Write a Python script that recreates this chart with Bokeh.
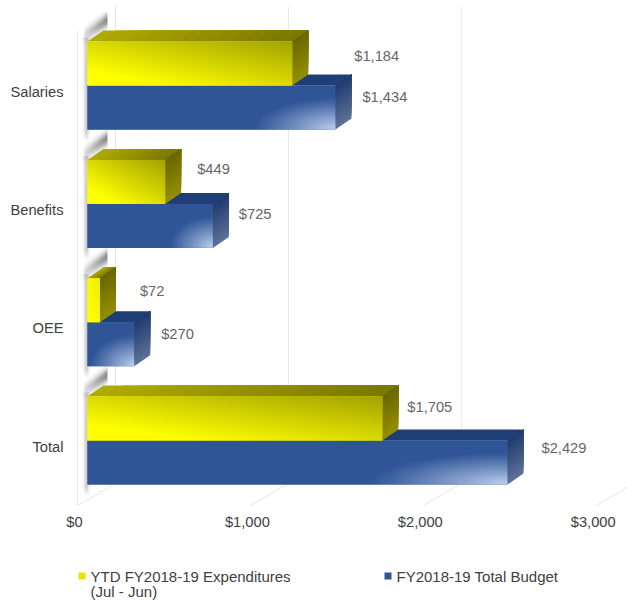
import numpy as np
from bokeh.plotting import figure
from bokeh.layouts import column
from bokeh.models import ColumnDataSource, Range1d, LinearAxis, FixedTicker, NumeralTickFormatter
from bokeh.core.properties import value
from bokeh.embed import file_html
from bokeh.resources import INLINE

# ---- chart data ----
categories = ["Salaries", "Benefits", "OEE", "Total"]
expenditures = [1184, 449, 72, 1705]
budget = [1434, 725, 270, 2429]
x_ticks = [0, 1000, 2000, 3000]
series_names = ["YTD FY2018-19 Expenditures", "FY2018-19 Total Budget"]
series_note = "(Jul - Jun)"

# ---- layout (pixels) ----
W, H, AXIS_H = 627, 532, 27
PX_PER_X = 0.1729
PX_PER_Y = 118.3
FRAME_L, FRAME_R, FRAME_T, FRAME_B = 70, 627, 0, H - AXIS_H
ZERO_X, TOTAL_Y = 87, 440
BAR_PX = 44
DEPTH_PX, DEPTH_PY = 16, 11
label_dx = [62, 27, 32, 26, 40, 27, 25, 34]
label_dy = [-8, -11, -13, -12, -9, -10, -12, -15]
FONT = "Liberation Sans"

def xr(px, zero=ZERO_X):
    return (px - zero) / PX_PER_X
def yr(py, zero=TOTAL_Y):
    return (zero - py) / PX_PER_Y

dx = DEPTH_PX / PX_PER_X
dy = DEPTH_PY / PX_PER_Y
bh = BAR_PX / PX_PER_Y
ypos = list(range(len(categories) - 1, -1, -1))

p = figure(width=W, height=H, output_backend="svg", toolbar_location=None,
           x_range=Range1d(xr(FRAME_L), xr(FRAME_R)),
           y_range=Range1d(yr(FRAME_B), yr(FRAME_T)),
           x_axis_location=None, y_axis_location=None,
           min_border_left=FRAME_L, min_border_right=0, min_border_top=0,
           min_border_bottom=AXIS_H, background_fill_color="white",
           outline_line_color=None)
p.grid.visible = False

p.extra_x_ranges["front"] = Range1d(xr(FRAME_L, 74), xr(FRAME_R, 74))
p.extra_y_ranges["labels"] = Range1d(yr(FRAME_B, 446), yr(FRAME_T, 446))
xaxis = LinearAxis(x_range_name="front", ticker=FixedTicker(ticks=x_ticks),
                   formatter=NumeralTickFormatter(format="$0,0"))
yaxis = LinearAxis(y_range_name="labels", ticker=FixedTicker(ticks=ypos),
                   major_label_overrides={y: c for y, c in zip(ypos, categories)})
for ax in (xaxis, yaxis):
    ax.axis_line_color = None
    ax.major_tick_line_color = None
    ax.minor_tick_line_color = None
    ax.major_tick_out = 0
    ax.major_tick_in = 0
    ax.minor_tick_out = 0
    ax.minor_tick_in = 0
    ax.major_label_text_font = FONT
    ax.major_label_text_font_size = "14.7px"
    ax.major_label_text_color = "#404040"
xaxis.major_label_standoff = 8
yaxis.major_label_standoff = 7
p.add_layout(xaxis, "below")
p.add_layout(yaxis, "left")

# 3D walls
GRID = "#e6e6e6"
back_off = xr(115)
front_off = xr(77)
floor_y, back_y, top_y = yr(505), yr(483), yr(6)
for t in x_ticks:
    p.segment([t + back_off], [back_y], [t + back_off], [top_y], line_color=GRID, line_width=1)
    p.segment([t + front_off], [floor_y], [t + back_off], [back_y], line_color=GRID, line_width=1)
p.segment([front_off], [floor_y], [front_off], [yr(30)], line_color="#e8e8e8", line_width=1)

def shadow(ytop_px):
    xs = np.arange(80, 110) + 0.5
    ys = np.arange(ytop_px - 30, ytop_px + BAR_PX * 2 + 14) + 0.5
    X, Y = np.meshgrid(xs, ys)
    band = 0.75 * np.exp(-((Y - (ytop_px - 8 - (X - 87) * 11 / 16)) / 6.5) ** 2)
    band *= (0.3 + 0.7 * (X - 84) / 22) * np.clip((X - 82) / 3, 0, 1) * np.clip(107.5 - X, 0, 1)
    yb = ytop_px + BAR_PX * 2
    strip = 0.34 * np.exp(-((X - 86) / 2.5) ** 2) * np.clip((yb + 12 - Y) / 10, 0, 1) * (Y > ytop_px - 4)
    a = 1 - (1 - band) * (1 - strip)
    img = np.zeros(a.shape, dtype=np.uint32)
    v = img.view(dtype=np.uint8).reshape((*a.shape, 4))
    v[..., 0:3] = 100
    v[..., 3] = (a * 255).astype(np.uint8)
    return img[::-1], xs[0] - 0.5, ys[-1] + 0.5, len(xs), len(ys)

def lerp(c1, c2, t):
    return tuple(c1[i] + (c2[i] - c1[i]) * t for i in range(3))
def hexc(c):
    return "#%02x%02x%02x" % tuple(int(round(min(255, max(0, v)))) for v in c)

def strips(x0, y0, ex, ey, fx, fy, c1, c2, n=16):
    xs, ys, cs = [], [], []
    for i in range(n):
        a = i / n
        xs.append([x0 + ex * a, x0 + ex, x0 + ex + fx, x0 + ex * a + fx])
        ys.append([y0 + ey * a, y0 + ey, y0 + ey + fy, y0 + ey * a + fy])
        cs.append(hexc(lerp(c1, c2, (i + .5) / n)))
    p.patches(xs, ys, fill_color=cs, line_color=None)

def rgba(arr):
    img = np.zeros(arr.shape[:2], dtype=np.uint32)
    v = img.view(dtype=np.uint8).reshape((*arr.shape[:2], 4))
    v[..., :3] = np.clip(arr, 0, 255).astype(np.uint8)
    v[..., 3] = 255
    return img

def yellow_face(val):
    w, h = max(2, int(val * PX_PER_X)), BAR_PX
    X, Y = np.meshgrid(np.linspace(0, 1, w), np.linspace(0, 1, h))
    k = min(1.0, w / 70)
    t = np.clip((0.62 * Y + 0.62 * X - 0.22), 0, 1) * k
    t = t[..., None]
    return rgba(np.array([255, 255, 0]) * (1 - t) + np.array([165, 165, 0]) * t)

def blue_face(val):
    w, h = max(2, int(val * PX_PER_X)), BAR_PX
    X, Y = np.meshgrid(np.arange(w), np.arange(h))
    rx = max(45, 0.34 * w)
    s = np.sqrt(((w - X) / rx) ** 2 + (Y / (0.72 * h)) ** 2)
    t = np.clip(1 - s, 0, 1)[..., None] ** 1.1 * 1.1
    t = np.clip(t, 0, 1)
    return rgba(np.array([47, 85, 151]) * (1 - t) + np.array([178, 198, 232]) * t)

for y in ypos:
    py = TOTAL_Y - y * PX_PER_Y - BAR_PX
    img, x0, y0, nw, nh = shadow(py)
    p.image_rgba(image=[img], x=[xr(x0)], y=[yr(y0)], dw=[nw / PX_PER_X], dh=[nh / PX_PER_Y])

for i, y in enumerate(ypos):
    b = budget[i]
    strips(0, y, b, 0, dx, dy, (32, 62, 118), (32, 62, 118), n=1)
    strips(b, y - bh, 0, bh, dx, dy, (94, 114, 152), (30, 58, 110))
p.hbar(y="y", right="bud", left=0, height=bh,
       source=ColumnDataSource(dict(y=[v - bh / 2 for v in ypos], bud=budget)),
       fill_color="#2f5597", line_color=None)
for i, y in enumerate(ypos):
    b = budget[i]
    p.image_rgba(image=[blue_face(b)], x=[0], y=[y - bh], dw=[b], dh=[bh])
for i, y in enumerate(ypos):
    e = expenditures[i]
    strips(0, y + bh, e, 0, dx, dy, (176, 172, 0), (122, 118, 0))
    strips(e, y, 0, bh, dx, dy, (148, 144, 0), (106, 102, 0))
p.hbar(y="y", right="exp", left=0, height=bh,
       source=ColumnDataSource(dict(y=[v + bh / 2 for v in ypos], exp=expenditures)),
       fill_color="#f2f200", line_color=None)
for i, y in enumerate(ypos):
    e = expenditures[i]
    p.image_rgba(image=[yellow_face(e)], x=[0], y=[y], dw=[e], dh=[bh])

lx, ly, lt, lxo, lyo = [], [], [], [], []
for i, y in enumerate(ypos):
    for j, (v, yy) in enumerate(((expenditures[i], y + bh / 2), (budget[i], y - bh / 2))):
        lx.append(v); ly.append(yy); lt.append("${:,}".format(v))
        lxo.append(label_dx[2 * i + j]); lyo.append(label_dy[2 * i + j])
p.text(x="x", y="y", text="t", x_offset="xo", y_offset="yo",
       source=ColumnDataSource(dict(x=lx, y=ly, t=lt, xo=lxo, yo=lyo)),
       text_font=value(FONT), text_font_size="14.7px", text_color="#666666",
       text_align="left", text_baseline="middle")

# legend strip: its own small figure; the column aligns its frame with the chart's frame
LH = 600 - H
lg = figure(width=W, height=LH, output_backend="svg", toolbar_location=None,
            x_range=Range1d(FRAME_L, W), y_range=Range1d(600, H),
            x_axis_location=None, y_axis_location=None,
            min_border=0, outline_line_color=None, background_fill_color="white")
lg.grid.visible = False
lg.scatter([81.5], [575.5], marker="square", size=7, fill_color="#e4e400", line_color=None)
lg.scatter([387.5], [575.5], marker="square", size=7, fill_color="#2f5597", line_color=None)
lg.text([90, 90, 396], [575.5, 590.5, 575.5], text=[series_names[0], series_note, series_names[1]],
        text_font=value(FONT), text_font_size="15px", text_color="#404040",
        text_align="left", text_baseline="middle")

open("out.html", "w").write(file_html(column(p, lg, spacing=0), INLINE))
